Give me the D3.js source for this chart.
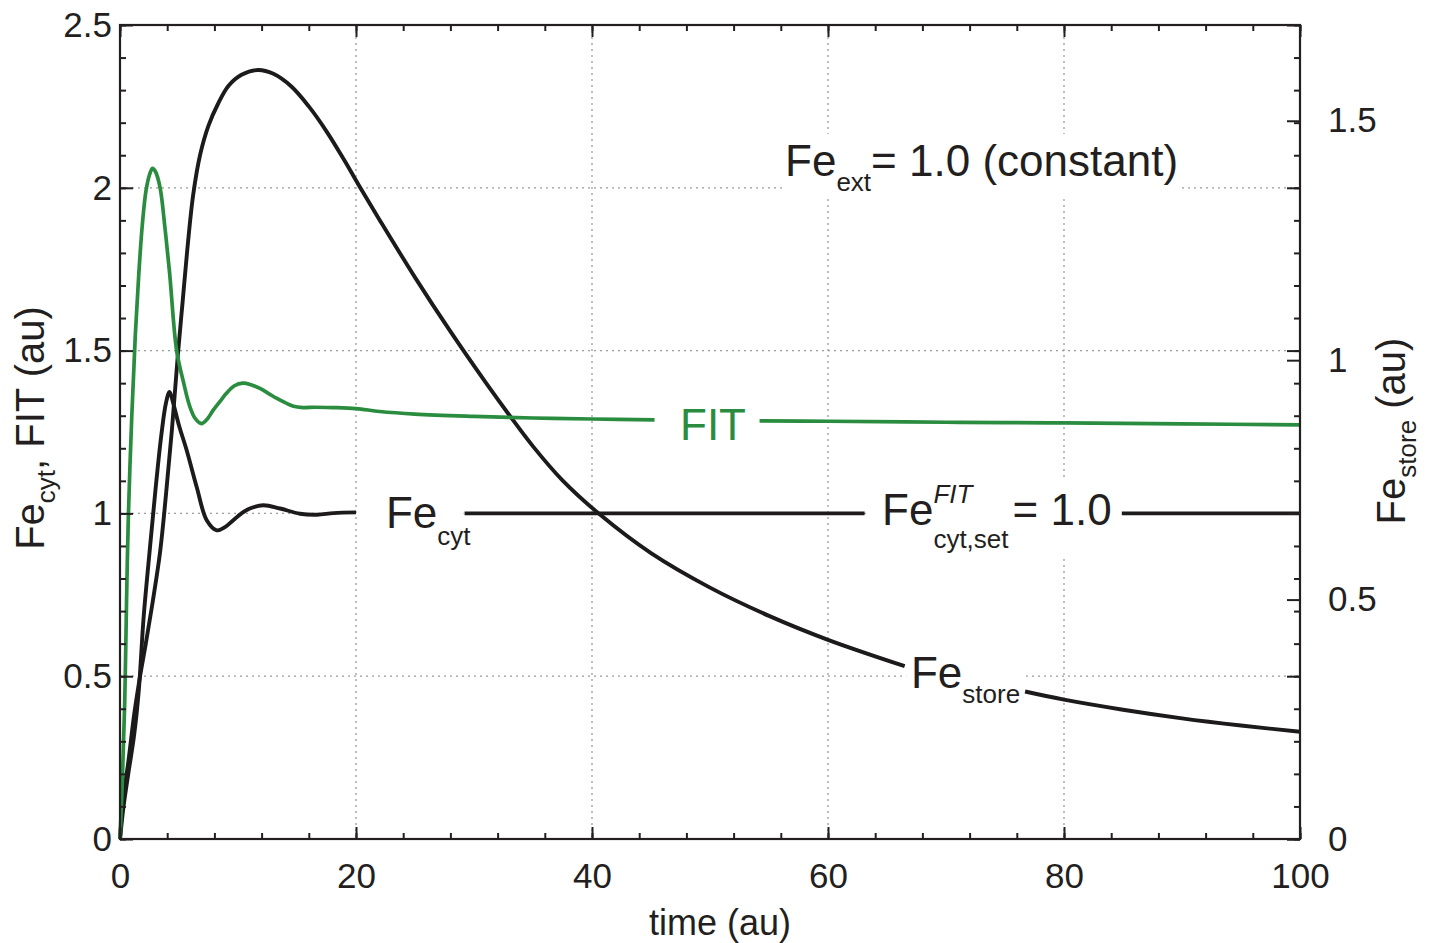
<!DOCTYPE html>
<html><head><meta charset="utf-8">
<script src="https://cdn.jsdelivr.net/npm/d3@7"></script>
<style>
html,body{margin:0;padding:0;background:#fff;}
svg{display:block;font-family:"Liberation Sans",Arial,Helvetica,sans-serif;}
</style></head><body>
<svg id="chart" width="1434" height="943"></svg>
<script>
// ---------------- data ----------------
// FIT (left axis)
const fitT = [0,0.2,0.4,0.55,0.7,1.0,1.3,1.6,1.9,2.2,2.5,2.75,3.0,3.4,3.8,4.2,4.8,5.4,5.9,6.4,6.9,7.4,7.9,8.5,9.0,9.7,10.4,11.1,11.9,12.6,13.3,14.0,14.7,15.5,16.5,18,20,22,25,30,35,40,45.3,50,54.2,60,70,80,90,100];
const fitV = [0,0.18,0.42,0.72,0.98,1.3,1.55,1.74,1.89,1.99,2.04,2.06,2.05,2.0,1.88,1.74,1.5,1.40,1.33,1.29,1.276,1.29,1.317,1.345,1.368,1.392,1.40,1.395,1.383,1.368,1.353,1.34,1.329,1.325,1.326,1.325,1.322,1.313,1.305,1.298,1.293,1.29,1.287,null,1.284,1.283,1.28,1.278,1.275,1.272];
// Fe_cyt (left axis)
const cytT = [0,0.3,0.7,1.2,1.6,2.0,2.5,3.0,3.5,3.9,4.2,4.5,5.0,5.65,6.5,7.35,8.2,8.9,9.6,10.3,11.0,12.15,13.56,15.25,16.7,18.1,20,25,29.2,40,50,63.1,74,84.9,90,100];
const cytV = [0,0.1,0.2,0.32,0.46,0.68,0.88,1.07,1.24,1.34,1.373,1.34,1.27,1.194,1.081,0.979,0.948,0.958,0.979,1.0,1.015,1.025,1.015,0.999,0.996,1.001,1.003,null,1.0,1.0,1.0,1.0,null,1.0,1.0,1.0];
// Fe_store (right axis)
const storeT = [0,0.3,0.7,1.2,1.7,2.2,2.8,3.4,3.9,4.4,4.9,5.3,5.7,6.2,6.8,7.5,8.3,9.2,10.3,11.7,13.0,14.5,16.0,17.5,19.0,20.2,22,25,28,31,33,35,37.5,40.7,45,50,55,60,66.5,71,76.7,80,85,90,95,100];
const storeV = [0,0.09,0.16,0.26,0.34,0.41,0.50,0.60,0.72,0.855,1.01,1.12,1.23,1.345,1.43,1.49,1.535,1.573,1.596,1.606,1.598,1.572,1.530,1.478,1.418,1.367,1.293,1.173,1.060,0.953,0.885,0.820,0.749,0.677,0.597,0.525,0.466,0.416,0.361,null,0.308,0.291,0.270,0.252,0.237,0.224];

// ticks
const xMajor = [0,20,40,60,80,100];
const xMinor = d3.range(0,101,4);
const yLeftMajor = [0,0.5,1,1.5,2,2.5];
const yLeftMinor = d3.range(0,26).map(i=>i/10);
const yRightMajor = [0,0.5,1,1.5];
const gridX = [20,40,60,80];
const gridY = [0.5,1,1.5,2];

// ---------------- setup ----------------
const ink = "#231f20", green = "#2a8c3f", black = "#1c1a1a";
const svg = d3.select("#chart");
const box = {l:120, r:1300, t:25, b:839};
const x = d3.scaleLinear().domain([0,100]).range([box.l, box.r]);
const yL = d3.scaleLinear().domain([0,2.5]).range([box.b, box.t]);
const yR = d3.scaleLinear().domain([0,1.7]).range([box.b, box.t]);

svg.append("rect").attr("width",1434).attr("height",943).attr("fill","#fff");
const gridLayer = svg.append("g");
const boxLayer = svg.append("g");
const curveLayer = svg.append("g");
const textLayer = svg.append("g");
const axisLayer = svg.append("g");

// grid
gridLayer.selectAll("line.gx").data(gridX).join("line")
  .attr("x1",d=>x(d)).attr("x2",d=>x(d)).attr("y1",box.t).attr("y2",box.b)
  .attr("stroke","#9b9b9b").attr("stroke-width",1.3).attr("stroke-dasharray","2,4");
gridLayer.selectAll("line.gy").data(gridY).join("line")
  .attr("y1",d=>yL(d)).attr("y2",d=>yL(d)).attr("x1",box.l).attr("x2",box.r)
  .attr("stroke","#9b9b9b").attr("stroke-width",1.3).attr("stroke-dasharray","2,4");

// curves
function series(ts, vs){ return ts.map((t,i)=>({t, v: vs[i]})); }
const curve = d3.curveCatmullRom.alpha(0.5);
const lineL = d3.line().defined(d=>d.v!==null).x(d=>x(d.t)).y(d=>yL(d.v)).curve(curve);
const lineR = d3.line().defined(d=>d.v!==null).x(d=>x(d.t)).y(d=>yR(d.v)).curve(curve);
curveLayer.append("path").datum(series(storeT,storeV)).attr("d",lineR)
  .attr("fill","none").attr("stroke",black).attr("stroke-width",3.9).attr("stroke-linejoin","round");
curveLayer.append("path").datum(series(cytT,cytV)).attr("d",lineL)
  .attr("fill","none").attr("stroke",black).attr("stroke-width",3.9).attr("stroke-linejoin","round");
curveLayer.append("path").datum(series(fitT,fitV)).attr("d",lineL)
  .attr("fill","none").attr("stroke",green).attr("stroke-width",3.7).attr("stroke-linejoin","round");

// rich text helper
function rich(parent, x0, y0, parts, fill){
  const t = parent.append("text").attr("fill", fill || ink);
  let cx = x0, hold = null, maxX = x0;
  parts.forEach(p=>{
    const startX = hold ? hold.x : cx + (p.gap||0);
    const ts = t.append("tspan").attr("x", startX).attr("y", y0 + (p.shift||0))
      .attr("font-size", p.size).text(p.s);
    if (p.italic) ts.attr("font-style","italic");
    const w = ts.node().getComputedTextLength();
    if (p.hold){ hold = {x:startX, w}; }
    else if (hold){ cx = startX + Math.max(w, hold.w); hold = null; }
    else { cx = startX + w; }
    maxX = Math.max(maxX, cx);
  });
  return {node:t, width: maxX - x0};
}

const B = 44, S = 26;
const labels = [
  {t:22.54, v:0.954, gap:[20,29.2], fill:ink, parts:[{s:"Fe",size:B},{s:"cyt",size:S,shift:17}]},
  {t:47.46, v:1.2246, gap:[45.3,54.2], fill:green, parts:[{s:"FIT",size:B}]},
  {t:64.58, v:0.9635, gap:[63.1,84.9], fill:ink, parts:[{s:"Fe",size:B},{s:"FIT",size:S,shift:-22,italic:true,hold:true},{s:"cyt,set",size:S,shift:23},{s:"= 1.0",size:B,gap:4}]},
  {t:67.03, v:0.4625, gap:[66.5,76.7], fill:ink, parts:[{s:"Fe",size:B},{s:"store",size:S,shift:15}]},
  {t:56.36, v:2.036, gap:null, fill:ink, parts:[{s:"Fe",size:B},{s:"ext",size:S,shift:15},{s:"= 1.0 (constant)",size:B}]}
];
labels.forEach(L=>{
  const r = rich(textLayer, x(L.t), yL(L.v), L.parts, L.fill);
  const bb = r.node.node().getBBox();
  let x1, x2;
  if (L.gap){ x1 = x(L.gap[0]) + 1.5; x2 = x(L.gap[1]) - 1; }
  else { x1 = bb.x - 3; x2 = bb.x + bb.width + 3; }
  boxLayer.append("rect").attr("x",x1).attr("y",bb.y-2).attr("width",x2-x1).attr("height",bb.height+4).attr("fill","#fff");
});

// axes
function style(g){ g.select(".domain").remove(); g.selectAll("line").attr("stroke",ink).attr("stroke-width",2);
  g.selectAll("text").attr("fill",ink).attr("font-size",35).attr("font-family",'"Liberation Sans",Arial,sans-serif'); }
const fmt = d => String(+d.toFixed(1));
// left
axisLayer.append("g").attr("transform",`translate(${box.l},0)`)
  .call(d3.axisLeft(yL).tickValues(yLeftMinor).tickSize(-6).tickFormat("")).call(style);
axisLayer.append("g").attr("transform",`translate(${box.l},0)`)
  .call(d3.axisLeft(yL).tickValues(yLeftMajor).tickSize(-13).tickPadding(8).tickFormat(fmt)).call(style);
// right mirror of left
axisLayer.append("g").attr("transform",`translate(${box.r},0)`)
  .call(d3.axisRight(yL).tickValues(yLeftMinor).tickSize(-6).tickFormat("")).call(style);
axisLayer.append("g").attr("transform",`translate(${box.r},0)`)
  .call(d3.axisRight(yL).tickValues(yLeftMajor).tickSize(-13).tickFormat("")).call(style);
// right axis (Fe_store)
axisLayer.append("g").attr("transform",`translate(${box.r},0)`)
  .call(d3.axisRight(yR).tickValues(yRightMajor).tickSize(-13).tickPadding(28).tickFormat(fmt)).call(style);
// bottom
axisLayer.append("g").attr("transform",`translate(0,${box.b})`)
  .call(d3.axisBottom(x).tickValues(xMinor).tickSize(-6).tickFormat("")).call(style);
axisLayer.append("g").attr("transform",`translate(0,${box.b})`)
  .call(d3.axisBottom(x).tickValues(xMajor).tickSize(-12).tickPadding(24).tickFormat(fmt)).call(style);
// top
axisLayer.append("g").attr("transform",`translate(0,${box.t})`)
  .call(d3.axisTop(x).tickValues(xMinor).tickSize(-6).tickFormat("")).call(style);
axisLayer.append("g").attr("transform",`translate(0,${box.t})`)
  .call(d3.axisTop(x).tickValues(xMajor).tickSize(-12).tickFormat("")).call(style);
// frame
axisLayer.append("rect").attr("x",box.l).attr("y",box.t).attr("width",box.r-box.l).attr("height",box.b-box.t)
  .attr("fill","none").attr("stroke",ink).attr("stroke-width",2.2);

// titles
const T = 36;
axisLayer.append("text").attr("x",720).attr("y",935).attr("text-anchor","middle")
  .attr("font-size",T).attr("fill",ink).text("time (au)");
function rotTitle(cx, cy, parts){
  const g = axisLayer.append("g");
  const r = rich(g, 0, 0, parts);
  g.attr("transform",`translate(${cx},${cy}) rotate(-90) translate(${-r.width/2},0)`);
}
rotTitle(44, 428, [{s:"Fe",size:40},{s:"cyt",size:26,shift:11},{s:", FIT (au)",size:40}]);
rotTitle(1405, 431, [{s:"Fe",size:40},{s:"store",size:26,shift:11},{s:" (au)",size:40}]);
</script>
</body></html>
